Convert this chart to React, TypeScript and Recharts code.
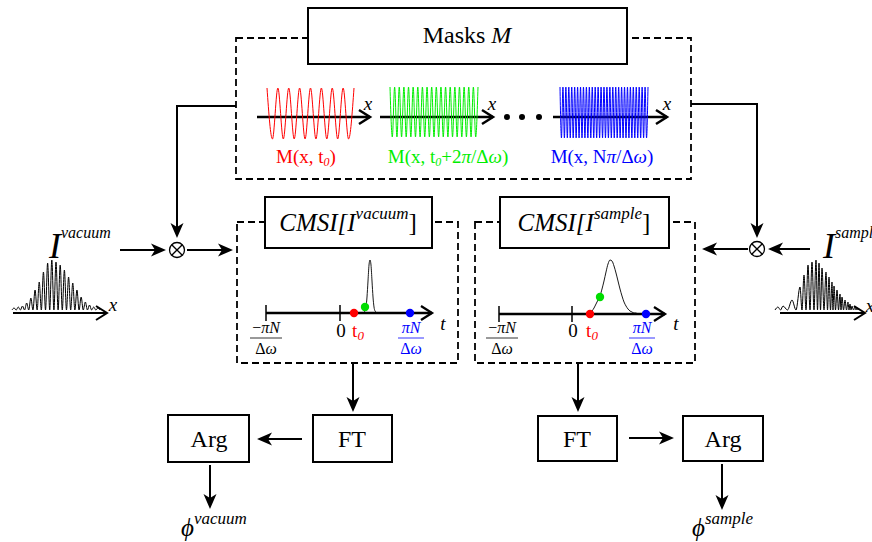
import React from 'react';
import { ComposedChart, Line, XAxis, YAxis, ReferenceArea, ReferenceLine, ReferenceDot } from 'recharts';

const W = 872;
const H = 542;
const SERIF = '"Liberation Serif", "Times New Roman", "DejaVu Serif", serif';

// mask oscillations, normalised, one entry per half period
const maskRed = [1, -1, 1, -1, 1, -1, 1, -1, 1, -1, 1, -1, 1, -1, 1, -1, 1];
const maskGreen = [
  1, -1, 1, -1, 1, -1, 1, -1, 1, -1, 1, -1, 1, -1, 1, -1, 1, -1, 1, -1,
  1, -1, 1, -1, 1, -1, 1, -1, 1, -1, 1, -1, 1, -1, 1, -1, 1, -1, 1,
];
const maskBlue = [
  1, -1, 1, -1, 1, -1, 1, -1, 1, -1, 1, -1, 1, -1, 1, -1, 1, -1, 1, -1, 1, -1, 1, -1, 1, -1, 1, -1, 1, -1,
  1, -1, 1, -1, 1, -1, 1, -1, 1, -1, 1, -1, 1, -1, 1, -1, 1, -1, 1, -1, 1, -1, 1, -1, 1, -1, 1, -1, 1, -1, 1,
];

// vacuum interferogram: fringe peak heights, evenly spaced
const vacuumFringes = [2, 3, 4, 7, 12, 20, 28, 38, 47, 50, 48, 45, 40, 33, 27, 20, 13, 8, 5, 3, 2];
// sample interferogram: chirped fringes, peak offset along x and height
const sampleFringeAt = [3, 8, 17, 25, 29, 33, 37, 41, 44, 47, 51, 54, 57, 59, 62, 65, 67, 70, 73, 75, 77, 80, 82, 84];
const sampleFringeH = [3, 4, 10, 23, 35, 45, 48, 50, 47, 42, 38, 33, 28, 24, 20, 16, 13, 10, 8, 6, 4, 3, 2, 1];

// CMSI traces (height above the t axis)
const vacuumPulse = [0, 0, 1, 2, 6, 16, 32, 48, 53, 48, 32, 16, 6, 2, 1, 0, 0];
const samplePulse = [0, 1, 3, 6, 10, 14, 18, 25, 33, 42, 50, 54, 53, 48, 41, 33, 25, 18, 12, 8, 5, 3, 2, 1, 1, 0, 0];

// marker heights on the t axis: red (t0), green, blue
const vacuumMarks = [0, 6, 0];
const sampleMarks = [0, 17, 0];
const markColors = ['#ff0000', '#00dd00', '#0000ff'];

type Part = { t: string; i?: boolean; sup?: boolean; sub?: boolean };

const masksTitle: Part[] = [{ t: 'Masks ' }, { t: 'M', i: true }];
const maskLabels: Part[][] = [
  [{ t: 'M(x, t' }, { t: '0', i: true, sub: true }, { t: ')' }],
  [{ t: 'M(x, t' }, { t: '0', i: true, sub: true }, { t: '+2' }, { t: 'π', i: true }, { t: '/Δ' }, { t: 'ω', i: true }, { t: ')' }],
  [{ t: 'M(x, N' }, { t: 'π', i: true }, { t: '/Δ' }, { t: 'ω', i: true }, { t: ')' }],
];
const cmsiVacuum: Part[] = [{ t: 'CMSI[I', i: true }, { t: 'vacuum', i: true, sup: true }, { t: ']' }];
const cmsiSample: Part[] = [{ t: 'CMSI[I', i: true }, { t: 'sample', i: true, sup: true }, { t: ']' }];
const iVacuum: Part[] = [{ t: 'I', i: true }, { t: 'vacuum', i: true, sup: true }];
const iSample: Part[] = [{ t: 'I', i: true }, { t: 'sample', i: true, sup: true }];
const phiVacuum: Part[] = [{ t: 'ϕ', i: true }, { t: 'vacuum', i: true, sup: true }];
const phiSample: Part[] = [{ t: 'ϕ', i: true }, { t: 'sample', i: true, sup: true }];
const negNum: Part[] = [{ t: '−' }, { t: 'πN', i: true }];
const posNum: Part[] = [{ t: 'πN', i: true }];
const denom: Part[] = [{ t: 'Δ' }, { t: 'ω', i: true }];
const tZero: Part[] = [{ t: 't' }, { t: '0', i: true, sub: true }];

const spread = (vals: number[], x0: number, x1: number, y0: number, amp: number) =>
  vals.map((v, i) => ({ x: x0 + (i * (x1 - x0)) / (vals.length - 1), y: y0 - v * amp }));

const fringe = (peaks: number[], x0: number, x1: number, y0: number) => {
  const step = (x1 - x0) / peaks.length;
  const pts = [{ x: x0, y: y0 }];
  peaks.forEach((p, i) => {
    pts.push({ x: x0 + step * (i + 0.5), y: y0 - p });
    pts.push({ x: x0 + step * (i + 1), y: y0 });
  });
  return pts;
};

const fringeAt = (at: number[], hs: number[], x0: number, y0: number) => {
  const pts = [{ x: x0, y: y0 }];
  at.forEach((a, i) => {
    pts.push({ x: x0 + a, y: y0 - hs[i] });
    const next = i + 1 < at.length ? at[i + 1] : a + 2;
    pts.push({ x: x0 + (a + next) / 2, y: y0 });
  });
  return pts;
};

type TextOpts = {
  size: number;
  color?: string;
  anchor?: 'start' | 'middle' | 'end';
  supSize?: number;
  supShift?: number;
  subSize?: number;
  subShift?: number;
};

const txt = (parts: Part[], o: TextOpts) => (p: any) => {
  const { size, color = '#000', anchor = 'middle' } = o;
  const supSize = o.supSize ?? size * 0.62;
  const subSize = o.subSize ?? size * 0.65;
  const supShift = o.supShift ?? size * 0.45;
  const subShift = o.subShift ?? size * 0.22;
  let cur = 0;
  return (
    <text x={p.cx} y={p.cy} textAnchor={anchor} fontFamily={SERIF} fontSize={size} fill={color}>
      {parts.map((q, k) => {
        const target = q.sup ? -supShift : q.sub ? subShift : 0;
        const dy = target - cur;
        cur = target;
        return (
          <tspan key={k} dy={dy} fontStyle={q.i ? 'italic' : 'normal'} fontSize={q.sup ? supSize : q.sub ? subSize : size}>
            {q.t}
          </tspan>
        );
      })}
    </text>
  );
};

const arrow = (head: 'fill' | 'open' | 'none', sw = 2, color = '#000') => (p: any) => {
  const { x1, y1, x2, y2 } = p;
  const dx = x2 - x1;
  const dy = y2 - y1;
  const len = Math.hypot(dx, dy) || 1;
  const ux = dx / len;
  const uy = dy / len;
  const nx = -uy;
  const ny = ux;
  if (head === 'fill') {
    const L = 15;
    const hw = 6.5;
    const notch = 4;
    const bx = x2 - ux * L;
    const by = y2 - uy * L;
    const mx = x2 - ux * (L - notch);
    const my = y2 - uy * (L - notch);
    return (
      <g>
        <line x1={x1} y1={y1} x2={mx} y2={my} stroke={color} strokeWidth={sw} />
        <polygon
          points={`${x2},${y2} ${bx + nx * hw},${by + ny * hw} ${mx},${my} ${bx - nx * hw},${by - ny * hw}`}
          fill={color}
        />
      </g>
    );
  }
  if (head === 'open') {
    const L = 11;
    const hw = 7;
    const bx = x2 - ux * L;
    const by = y2 - uy * L;
    return (
      <g>
        <line x1={x1} y1={y1} x2={x2} y2={y2} stroke={color} strokeWidth={sw} />
        <polyline
          points={`${bx + nx * hw},${by + ny * hw} ${x2},${y2} ${bx - nx * hw},${by - ny * hw}`}
          fill="none"
          stroke={color}
          strokeWidth={sw}
        />
      </g>
    );
  }
  return <line x1={x1} y1={y1} x2={x2} y2={y2} stroke={color} strokeWidth={sw} />;
};

const otimes = (p: any) => (
  <g stroke="#000" strokeWidth={1.3} fill="#fff">
    <circle cx={p.cx} cy={p.cy} r={7.5} />
    <line x1={p.cx - 5.3} y1={p.cy - 5.3} x2={p.cx + 5.3} y2={p.cy + 5.3} />
    <line x1={p.cx - 5.3} y1={p.cy + 5.3} x2={p.cx + 5.3} y2={p.cy - 5.3} />
  </g>
);

const seg = (x1: number, y1: number, x2: number, y2: number) => [
  { x: x1, y: y1 },
  { x: x2, y: y2 },
];

const L = (data: { x: number; y: number }[], color: string, sw: number, key: string) => (
  <Line
    key={key}
    data={data}
    dataKey="y"
    type="monotone"
    stroke={color}
    strokeWidth={sw}
    dot={false}
    activeDot={false}
    isAnimationActive={false}
  />
);

export default function App() {
  const vacAxisY = 313;
  const samAxisY = 314;
  return (
    <div style={{ position: 'absolute', left: 0, top: 0, width: W, height: H, background: '#fff' }}>
      <ComposedChart width={W} height={H} margin={{ top: 0, right: 0, bottom: 0, left: 0 }}>
        <XAxis type="number" dataKey="x" domain={[0, W]} allowDataOverflow hide />
        <YAxis type="number" domain={[0, H]} reversed allowDataOverflow hide />

        {/* dashed frames */}
        <ReferenceArea x1={236} x2={691} y1={38} y2={179} fill="none" stroke="#000" strokeWidth={1.8} strokeDasharray="7 4" />
        <ReferenceArea x1={237} x2={458} y1={222} y2={363} fill="none" stroke="#000" strokeWidth={1.8} strokeDasharray="7 4" />
        <ReferenceArea x1={475} x2={695} y1={222} y2={363} fill="none" stroke="#000" strokeWidth={1.8} strokeDasharray="7 4" />

        {/* solid boxes */}
        <ReferenceArea x1={308} x2={627} y1={8} y2={64} fill="#fff" fillOpacity={1} stroke="#000" strokeWidth={2} />
        <ReferenceArea x1={265} x2={432} y1={197} y2={248} fill="#fff" fillOpacity={1} stroke="#000" strokeWidth={2} />
        <ReferenceArea x1={500} x2={669} y1={197} y2={248} fill="#fff" fillOpacity={1} stroke="#000" strokeWidth={2} />
        <ReferenceArea x1={313} x2={392} y1={415} y2={462} fill="#fff" fillOpacity={1} stroke="#000" strokeWidth={2} />
        <ReferenceArea x1={168} x2={249} y1={415} y2={462} fill="#fff" fillOpacity={1} stroke="#000" strokeWidth={2} />
        <ReferenceArea x1={538} x2={617} y1={416} y2={461} fill="#fff" fillOpacity={1} stroke="#000" strokeWidth={2} />
        <ReferenceArea x1={683} x2={763} y1={416} y2={461} fill="#fff" fillOpacity={1} stroke="#000" strokeWidth={2} />

        {/* flow connectors */}
        <ReferenceLine segment={seg(236, 106, 176, 106)} shape={arrow('none')} />
        <ReferenceLine segment={seg(177, 105, 177, 238)} shape={arrow('fill')} />
        <ReferenceLine segment={seg(691, 104, 757, 104)} shape={arrow('none')} />
        <ReferenceLine segment={seg(757, 103, 757, 238)} shape={arrow('fill')} />
        <ReferenceLine segment={seg(120, 250, 166, 250)} shape={arrow('fill')} />
        <ReferenceLine segment={seg(187, 250, 233, 250)} shape={arrow('fill')} />
        <ReferenceLine segment={seg(748, 249, 702, 249)} shape={arrow('fill')} />
        <ReferenceLine segment={seg(810, 249, 768, 249)} shape={arrow('fill')} />
        <ReferenceLine segment={seg(353, 364, 353, 412)} shape={arrow('fill')} />
        <ReferenceLine segment={seg(302, 439, 257, 439)} shape={arrow('fill')} />
        <ReferenceLine segment={seg(210, 465, 210, 509)} shape={arrow('fill')} />
        <ReferenceLine segment={seg(578, 364, 578, 412)} shape={arrow('fill')} />
        <ReferenceLine segment={seg(629, 438, 674, 438)} shape={arrow('fill')} />
        <ReferenceLine segment={seg(722, 464, 722, 510)} shape={arrow('fill')} />

        {/* mask axes */}
        <ReferenceLine segment={seg(257, 117, 370, 117)} shape={arrow('open', 2.5)} />
        <ReferenceLine segment={seg(380, 117, 493, 117)} shape={arrow('open', 2.5)} />
        <ReferenceLine segment={seg(553, 117, 667, 117)} shape={arrow('open', 2.5)} />

        {/* interferogram axes */}
        <ReferenceLine segment={seg(13, 313, 107, 313)} shape={arrow('open', 2)} />
        <ReferenceLine segment={seg(780, 313, 865, 313)} shape={arrow('open', 2)} />

        {/* CMSI t axes with ticks and fraction bars */}
        <ReferenceLine segment={seg(266, vacAxisY, 432, vacAxisY)} shape={arrow('open', 2.3)} />
        <ReferenceLine segment={seg(266, 305, 266, 321)} shape={arrow('none', 1.5)} />
        <ReferenceLine segment={seg(340, 305, 340, 321)} shape={arrow('none', 1.5)} />
        <ReferenceLine segment={seg(499, samAxisY, 665, samAxisY)} shape={arrow('open', 2.3)} />
        <ReferenceLine segment={seg(499, 306, 499, 322)} shape={arrow('none', 1.5)} />
        <ReferenceLine segment={seg(572, 306, 572, 322)} shape={arrow('none', 1.5)} />
        <ReferenceLine segment={seg(250, 338, 282, 338)} shape={arrow('none', 0.8)} />
        <ReferenceLine segment={seg(398, 338, 424, 338)} shape={arrow('none', 0.8, '#0000ff')} />
        <ReferenceLine segment={seg(486, 338, 518, 338)} shape={arrow('none', 0.8)} />
        <ReferenceLine segment={seg(629, 338, 655, 338)} shape={arrow('none', 0.8, '#0000ff')} />

        {/* waveforms */}
        {L(spread(maskRed, 267, 354, 113.5, 25.5), '#ff0000', 1, 'mr')}
        {L(spread(maskGreen, 390, 478, 112, 25), '#00ee00', 1, 'mg')}
        {L(spread(maskBlue, 560, 648, 112.5, 25.5), '#0000ff', 1, 'mb')}
        {L(fringe(vacuumFringes, 12, 100, 310), '#000', 1, 'fv')}
        {L(fringeAt(sampleFringeAt, sampleFringeH, 775, 310), '#000', 1, 'fs')}
        {L(spread(vacuumPulse, 362, 378, vacAxisY, 1), '#000', 0.9, 'pv')}
        {L(spread(samplePulse, 588, 640, samAxisY, 1), '#000', 0.9, 'ps')}

        {/* markers */}
        {[354, 365, 410].map((x, k) => (
          <ReferenceDot key={`vm${k}`} x={x} y={vacAxisY - vacuumMarks[k]} r={4.2} fill={markColors[k]} stroke="none" />
        ))}
        {[590, 600, 646].map((x, k) => (
          <ReferenceDot key={`sm${k}`} x={x} y={samAxisY - sampleMarks[k]} r={4.2} fill={markColors[k]} stroke="none" />
        ))}
        {[507, 522, 539].map((x, k) => (
          <ReferenceDot key={`el${k}`} x={x} y={117} r={3} fill="#000" stroke="none" />
        ))}
        <ReferenceDot x={177} y={250} r={0} shape={otimes} />
        <ReferenceDot x={757} y={249} r={0} shape={otimes} />

        {/* text */}
        <ReferenceDot x={467} y={43} r={0} shape={txt(masksTitle, { size: 24 })} />
        <ReferenceDot x={306} y={163} r={0} shape={txt(maskLabels[0], { size: 19, color: '#ff0000', subSize: 12, subShift: 3 })} />
        <ReferenceDot x={448} y={163} r={0} shape={txt(maskLabels[1], { size: 19, color: '#00ee00', subSize: 12, subShift: 3 })} />
        <ReferenceDot x={602} y={163} r={0} shape={txt(maskLabels[2], { size: 19, color: '#0000ff' })} />
        {[368, 492, 667].map((x, k) => (
          <ReferenceDot key={`x${k}`} x={x} y={110} r={0} shape={txt([{ t: 'x', i: true }], { size: 19 })} />
        ))}
        <ReferenceDot x={113} y={311} r={0} shape={txt([{ t: 'x', i: true }], { size: 19 })} />
        <ReferenceDot x={870} y={312} r={0} shape={txt([{ t: 'x', i: true }], { size: 19 })} />

        <ReferenceDot x={348} y={231} r={0} shape={txt(cmsiVacuum, { size: 25, supSize: 17, supShift: 12 })} />
        <ReferenceDot x={584} y={231} r={0} shape={txt(cmsiSample, { size: 25, supSize: 17, supShift: 12 })} />
        <ReferenceDot x={49} y={258} r={0} shape={txt(iVacuum, { size: 36, anchor: 'start', supSize: 16, supShift: 20 })} />
        <ReferenceDot x={823} y={258} r={0} shape={txt(iSample, { size: 36, anchor: 'start', supSize: 16, supShift: 20 })} />
        <ReferenceDot x={181} y={536} r={0} shape={txt(phiVacuum, { size: 25, anchor: 'start', supSize: 17, supShift: 12 })} />
        <ReferenceDot x={692} y={536} r={0} shape={txt(phiSample, { size: 25, anchor: 'start', supSize: 17, supShift: 12 })} />
        <ReferenceDot x={209} y={447} r={0} shape={txt([{ t: 'Arg' }], { size: 24 })} />
        <ReferenceDot x={352} y={447} r={0} shape={txt([{ t: 'FT' }], { size: 24 })} />
        <ReferenceDot x={577} y={447} r={0} shape={txt([{ t: 'FT' }], { size: 24 })} />
        <ReferenceDot x={723} y={447} r={0} shape={txt([{ t: 'Arg' }], { size: 24 })} />

        {/* vacuum t axis labels */}
        <ReferenceDot x={266} y={333} r={0} shape={txt(negNum, { size: 16 })} />
        <ReferenceDot x={266} y={354} r={0} shape={txt(denom, { size: 16 })} />
        <ReferenceDot x={341} y={337} r={0} shape={txt([{ t: '0' }], { size: 19 })} />
        <ReferenceDot x={358} y={337} r={0} shape={txt(tZero, { size: 19, color: '#ff0000', subSize: 13, subShift: 3 })} />
        <ReferenceDot x={411} y={333} r={0} shape={txt(posNum, { size: 16, color: '#0000ff' })} />
        <ReferenceDot x={411} y={354} r={0} shape={txt(denom, { size: 16, color: '#0000ff' })} />
        <ReferenceDot x={443} y={330} r={0} shape={txt([{ t: 't', i: true }], { size: 19 })} />

        {/* sample t axis labels */}
        <ReferenceDot x={502} y={333} r={0} shape={txt(negNum, { size: 16 })} />
        <ReferenceDot x={502} y={354} r={0} shape={txt(denom, { size: 16 })} />
        <ReferenceDot x={573} y={337} r={0} shape={txt([{ t: '0' }], { size: 19 })} />
        <ReferenceDot x={592} y={337} r={0} shape={txt(tZero, { size: 19, color: '#ff0000', subSize: 13, subShift: 3 })} />
        <ReferenceDot x={642} y={333} r={0} shape={txt(posNum, { size: 16, color: '#0000ff' })} />
        <ReferenceDot x={642} y={354} r={0} shape={txt(denom, { size: 16, color: '#0000ff' })} />
        <ReferenceDot x={676} y={330} r={0} shape={txt([{ t: 't', i: true }], { size: 19 })} />
      </ComposedChart>
    </div>
  );
}
